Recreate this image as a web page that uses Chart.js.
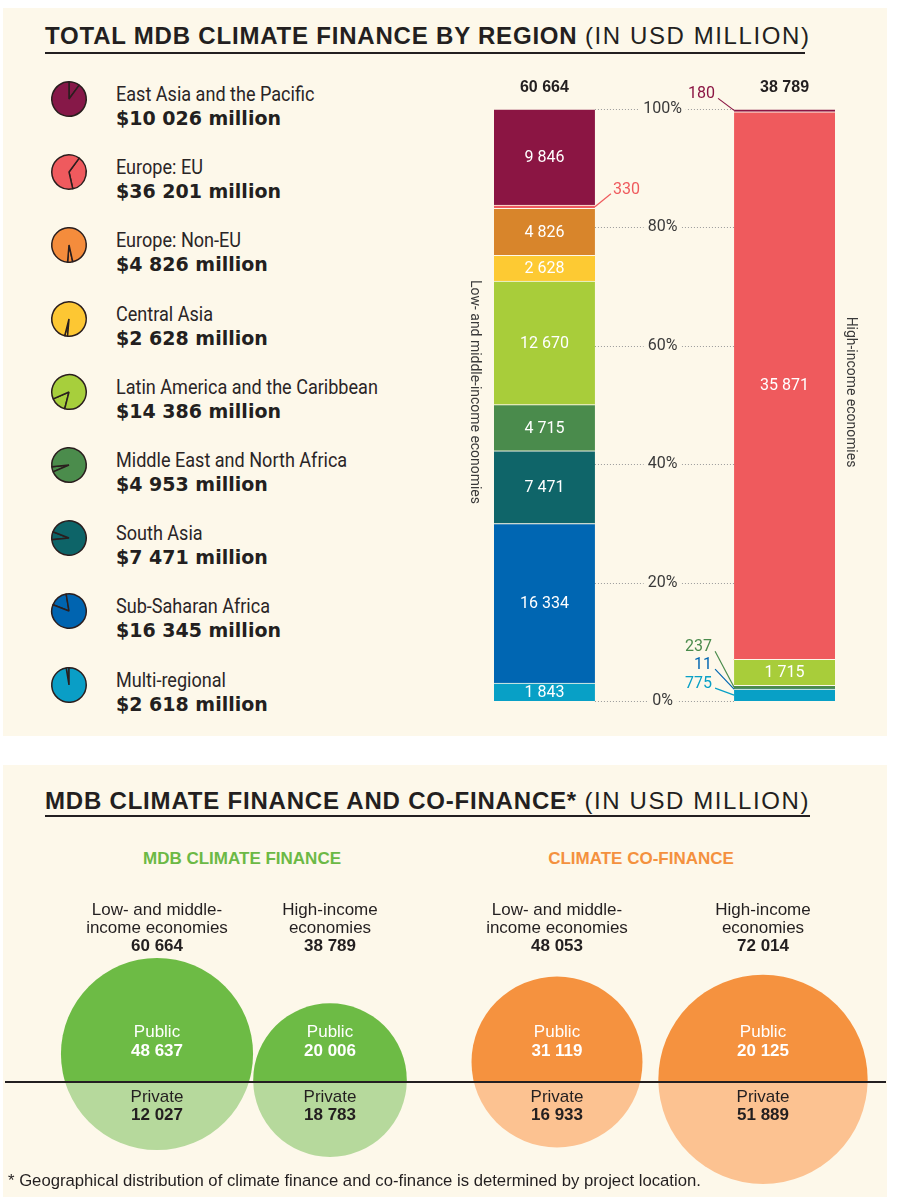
<!DOCTYPE html>
<html>
<head>
<meta charset="utf-8">
<title>MDB climate finance by region</title>
<script src="https://cdn.jsdelivr.net/npm/chart.js@4.4.1/dist/chart.umd.min.js"></script>
<style>
  body { margin: 0; width: 900px; height: 1197px; position: relative; overflow: hidden; background: #fff;
         font-family: "Liberation Sans", Arial, sans-serif; color: #231f20; }
  .panel { position: absolute; left: 3px; width: 884px; background: #fdf8ea; }
  .title { position: absolute; left: 45px; font-size: 24px; line-height: 28px; font-weight: bold;
           letter-spacing: 0.8px; white-space: nowrap; border-bottom: 2px solid #231f20; }
  .title span { font-weight: normal; letter-spacing: 1.6px; }
  .item { position: absolute; left: 116px; white-space: nowrap; }
  .item .name { font-family: Roboto, "Liberation Sans", sans-serif; font-size: 21px; line-height: 24px;
                transform: scaleX(0.86); transform-origin: left center; color: #2a2526; }
  .item .amount { font-family: "DejaVu Sans", "Liberation Sans", sans-serif; font-weight: bold;
                  font-size: 19px; line-height: 24px; }
  .icon { position: absolute; }
  .sub { position: absolute; font-size: 17px; line-height: 20px; font-weight: bold; transform: translateX(-50%); white-space: nowrap; }
  .note { position: absolute; left: 8px; top: 1171px; font-size: 16.7px; line-height: 20px; white-space: nowrap; }
  canvas.chart { position: absolute; }
</style>
</head>
<body>
<div class="panel" style="top:8px; height:728px;"></div>
<div class="panel" style="top:765px; height:432px;"></div>

<div class="title" style="top:22px; width:760px; padding-bottom:2px;">TOTAL MDB CLIMATE FINANCE BY REGION <span>(IN USD MILLION)</span></div>
<div id="legend"></div>
<canvas id="bars" class="chart" width="460" height="670" style="left:440px; top:60px;"></canvas>

<div class="title" style="top:787px; width:765px;">MDB CLIMATE FINANCE AND CO-FINANCE* <span>(IN USD MILLION)</span></div>
<div class="sub" style="left:242px; top:849px; color:#6cb945;">MDB CLIMATE FINANCE</div>
<div class="sub" style="left:641px; top:849px; color:#f4913e;">CLIMATE CO-FINANCE</div>
<canvas id="mdb" class="chart" width="450" height="357" style="left:0; top:840px;"></canvas>
<canvas id="cofi" class="chart" width="450" height="357" style="left:450px; top:840px;"></canvas>
<div class="note">* Geographical distribution of climate finance and co-finance is determined by project location.</div>

<script>
// --- data ---
const regions = ['East Asia and the Pacific', 'Europe: EU', 'Europe: Non-EU', 'Central Asia',
  'Latin America and the Caribbean', 'Middle East and North Africa', 'South Asia',
  'Sub-Saharan Africa', 'Multi-regional'];
const regionTotals = [10026, 36201, 4826, 2628, 14386, 4953, 7471, 16345, 2618];
const lowMidValues = [9846, 330, 4826, 2628, 12670, 4715, 7471, 16334, 1843];
const highIncValues = [180, 35871, 0, 0, 1715, 237, 0, 11, 775];
const barTotals = [60664, 38789];
const barNames = ['Low- and middle-income economies', 'High-income economies'];
const pctTicks = [0, 20, 40, 60, 80, 100];

const economyNames = [['Low- and middle-', 'income economies'], ['High-income', 'economies']];
const mdbTotals = [60664, 38789];
const mdbPublic = [48637, 20006];
const mdbPrivate = [12027, 18783];
const coTotals = [48053, 72014];
const coPublic = [31119, 20125];
const coPrivate = [16933, 51889];

// --- styles ---
const barColors = ['#8b1543', '#ef5a5d', '#d8852b', '#fdca33', '#a8cd3a', '#4a8b4c', '#0f6569', '#0066b2', '#08a0c6'];
const iconColors = ['#861848', '#ef5a5e', '#f48c3c', '#fdc733', '#a7cf3c', '#4b8c4c', '#0d6468', '#0064b0', '#0a9ec6'];
const panelBg = '#fdf8ea';
const ink = '#231f20';
const thin = 'Roboto, "Liberation Sans", sans-serif';

// callouts for slices too thin to hold a label: offset of the label from the bar edge
const callouts = {
  '1-0': { dx: 18, dy: -17 },
  '0-1': { dx: -19, dy: -16 },
  '5-1': { dx: -22, dy: -40 },
  '7-1': { dx: -22, dy: -24 },
  '8-1': { dx: -22, dy: -11 }
};

const fmt = n => String(n).replace(/\B(?=(\d{3})+(?!\d))/g, ' ');

// --- legend with small pies ---
const grandTotal = regionTotals.reduce((a, b) => a + b, 0);
const legend = document.getElementById('legend');
let before = 0;
regions.forEach((name, i) => {
  const cy = 99 + i * 73.2;
  const item = document.createElement('div');
  item.className = 'item';
  item.style.top = (cy - 17) + 'px';
  item.innerHTML = `<div class="name">${name}</div><div class="amount">$${fmt(regionTotals[i])} million</div>`;
  legend.appendChild(item);

  const cv = document.createElement('canvas');
  cv.className = 'icon';
  cv.width = 40; cv.height = 40;
  cv.style.left = '49px';
  cv.style.top = (cy - 20) + 'px';
  legend.appendChild(cv);

  new Chart(cv, {
    type: 'pie',
    data: { datasets: [{
      data: [regionTotals[i], grandTotal - regionTotals[i]],
      backgroundColor: iconColors[i],
      borderColor: '#2a1e1e',
      borderWidth: 1.5
    }] },
    options: {
      responsive: false, animation: false, events: [],
      rotation: before / grandTotal * 360,
      layout: { padding: 2 },
      plugins: { legend: { display: false }, tooltip: { enabled: false } }
    }
  });
  before += regionTotals[i];
});

// --- 100% stacked bars ---
const barDatasets = regions.map((name, i) => ({
  label: name,
  ri: i,
  data: [
    { x: 0, y: lowMidValues[i] / barTotals[0] * 100 },
    { x: 1, y: highIncValues[i] / barTotals[1] * 100 }
  ],
  values: [lowMidValues[i], highIncValues[i]],
  backgroundColor: barColors[i],
  borderColor: panelBg,
  borderWidth: { top: 1, right: 0, bottom: 0, left: 0 },
  borderSkipped: false,
  barThickness: 101
})).reverse();

const barDecor = {
  id: 'barDecor',
  beforeDatasetsDraw(chart) {
    const { ctx, scales: { y } } = chart;
    const els = chart.getDatasetMeta(0).data;
    const gapL = els[0].x + els[0].width / 2, gapR = els[1].x - els[1].width / 2;
    ctx.save();
    ctx.strokeStyle = '#9a9a9a'; ctx.lineWidth = 1; ctx.setLineDash([1, 2]);
    pctTicks.forEach(t => {
      const py = Math.round(y.getPixelForValue(t)) + 0.5;
      ctx.beginPath(); ctx.moveTo(gapL, py); ctx.lineTo(gapR, py); ctx.stroke();
    });
    ctx.setLineDash([]);
    ctx.font = '16px ' + thin; ctx.textAlign = 'center'; ctx.textBaseline = 'middle';
    pctTicks.forEach(t => {
      const py = y.getPixelForValue(t), cx = (gapL + gapR) / 2 - 2;
      const label = t + '%';
      const w = ctx.measureText(label).width + 8;
      ctx.fillStyle = panelBg; ctx.fillRect(cx - w / 2, py - 8, w, 16);
      ctx.fillStyle = '#3a3a3a'; ctx.fillText(label, cx, py);
    });
    ctx.restore();
  },
  afterDatasetsDraw(chart) {
    const { ctx, chartArea } = chart;
    ctx.save();
    ctx.textAlign = 'center'; ctx.textBaseline = 'middle';
    chart.data.datasets.forEach((ds, d) => {
      chart.getDatasetMeta(d).data.forEach((el, j) => {
        const v = ds.values[j];
        if (!v) return;
        const h = el.base - el.y, my = (el.y + el.base) / 2;
        if (h >= 14) {
          ctx.font = '16px ' + thin; ctx.fillStyle = '#fff'; ctx.textAlign = 'center';
          ctx.fillText(fmt(v), el.x, my + 1);
          return;
        }
        const c = callouts[ds.ri + '-' + j];
        if (!c) return;
        const ax = el.x + (c.dx > 0 ? 1 : -1) * el.width / 2;
        const tx = ax + c.dx, ty = my + c.dy;
        ctx.strokeStyle = ds.backgroundColor; ctx.lineWidth = 1.2;
        ctx.beginPath(); ctx.moveTo(ax, my); ctx.lineTo(tx + (c.dx > 0 ? -2 : 3), ty + 4); ctx.stroke();
        ctx.font = '16px ' + thin; ctx.fillStyle = ds.backgroundColor;
        ctx.textAlign = c.dx > 0 ? 'left' : 'right';
        ctx.fillText(fmt(v), tx, ty);
      });
    });
    // totals above bars and rotated names beside them
    const els = chart.getDatasetMeta(0).data;
    els.forEach((el, j) => {
      ctx.font = 'bold 16px "Liberation Sans", Arial, sans-serif'; ctx.fillStyle = ink; ctx.textAlign = 'center';
      ctx.fillText(fmt(barTotals[j]), el.x, chartArea.top - 21);
      const nx = j === 0 ? el.x - el.width / 2 - 19 : el.x + el.width / 2 + 16;
      ctx.save();
      ctx.translate(nx, (chartArea.top + chartArea.bottom) / 2 - 13);
      ctx.rotate(Math.PI / 2);
      ctx.scale(0.9, 1);
      ctx.font = '15.5px ' + thin; ctx.fillStyle = '#3a3a3a';
      ctx.fillText(barNames[j], 0, 0);
      ctx.restore();
    });
    ctx.restore();
  }
};

new Chart(document.getElementById('bars'), {
  type: 'bar',
  data: { datasets: barDatasets },
  options: {
    responsive: false, animation: false, events: [],
    layout: { autoPadding: false, padding: { left: 54, right: 65, top: 49, bottom: 29 } },
    scales: {
      x: { type: 'linear', min: -0.21, max: 1.21, offset: false, stacked: true, display: false },
      y: { min: 0, max: 100, stacked: true, display: false }
    },
    plugins: { legend: { display: false }, tooltip: { enabled: false } }
  },
  plugins: [barDecor]
});

// --- split bubbles: public above the divider, private below ---
const bubbleScale = 0.39;     // px of radius per sqrt(USD million)
const roomAbove = 124, roomBelow = 102;

// distance of the centre above the divider so that the part below holds the private share
function splitOffset(r, share) {
  let lo = -r, hi = r;
  for (let k = 0; k < 60; k++) {
    const d = (lo + hi) / 2, t = d / r;
    const below = (Math.acos(t) - t * Math.sqrt(1 - t * t)) / Math.PI;
    if (below > share) lo = d; else hi = d;
  }
  const d = (lo + hi) / 2;
  return Math.max(Math.min(d, roomAbove - r), r - roomBelow);
}

const halfClip = {
  id: 'halfClip',
  beforeDatasetDraw(chart, args) {
    const y0 = chart.scales.y.getPixelForValue(0), ctx = chart.ctx;
    ctx.save(); ctx.beginPath();
    if (chart.data.datasets[args.index].half === 'top') ctx.rect(0, 0, chart.width, y0);
    else ctx.rect(0, y0, chart.width, chart.height - y0);
    ctx.clip();
  },
  afterDatasetDraw(chart) { chart.ctx.restore(); }
};

const bubbleDecor = {
  id: 'bubbleDecor',
  afterDraw(chart, args, o) {
    const { ctx, scales: { y } } = chart;
    const y0 = y.getPixelForValue(0);
    ctx.save();
    ctx.strokeStyle = ink; ctx.lineWidth = 2;
    ctx.beginPath(); ctx.moveTo(o.lineFrom, y0); ctx.lineTo(o.lineTo, y0); ctx.stroke();
    ctx.textAlign = 'center'; ctx.textBaseline = 'middle';
    const reg = '17px "Liberation Sans", Arial, sans-serif', bold = 'bold 17px "Liberation Sans", Arial, sans-serif';
    chart.getDatasetMeta(0).data.forEach((el, i) => {
      ctx.fillStyle = ink; ctx.font = reg;
      economyNames[i].forEach((line, k) => ctx.fillText(line, el.x, y0 - 172 + k * 18));
      ctx.font = bold; ctx.fillText(fmt(o.totals[i]), el.x, y0 - 136);
      ctx.fillStyle = '#fff';
      ctx.font = reg; ctx.fillText('Public', el.x, y0 - 50);
      ctx.font = bold; ctx.fillText(fmt(o.pub[i]), el.x, y0 - 31);
      ctx.fillStyle = ink;
      ctx.font = reg; ctx.fillText('Private', el.x, y0 + 15);
      ctx.font = bold; ctx.fillText(fmt(o.priv[i]), el.x, y0 + 33);
    });
    ctx.restore();
  }
};

function splitBubbles(id, totals, pub, priv, colors, pad, line) {
  const pts = totals.map((t, i) => {
    const r = bubbleScale * Math.sqrt(t);
    return { x: i, y: splitOffset(r, priv[i] / t), r };
  });
  new Chart(document.getElementById(id), {
    type: 'bubble',
    data: { datasets: [
      { label: 'Public', half: 'top', data: pts.map(p => ({ ...p })), backgroundColor: colors[0], borderWidth: 0, clip: false },
      { label: 'Private', half: 'bottom', data: pts.map(p => ({ ...p })), backgroundColor: colors[1], borderWidth: 0, clip: false }
    ] },
    options: {
      responsive: false, animation: false, events: [],
      layout: { autoPadding: false, padding: { left: pad[0], right: pad[1], top: 0, bottom: 0 } },
      scales: {
        x: { type: 'linear', min: -0.5, max: 1.5, offset: false, display: false },
        y: { min: -115, max: 242, display: false }
      },
      plugins: {
        legend: { display: false }, tooltip: { enabled: false },
        bubbleDecor: { totals, pub, priv, lineFrom: line[0], lineTo: line[1] }
      }
    },
    plugins: [halfClip, bubbleDecor]
  });
}

splitBubbles('mdb', mdbTotals, mdbPublic, mdbPrivate, ['#6dbb45', '#b6d99c'], [70.5, 33.5], [5, 450]);
splitBubbles('cofi', coTotals, coPublic, coPrivate, ['#f5923f', '#fcc291'], [4, 34], [0, 436]);
</script>
</body>
</html>
